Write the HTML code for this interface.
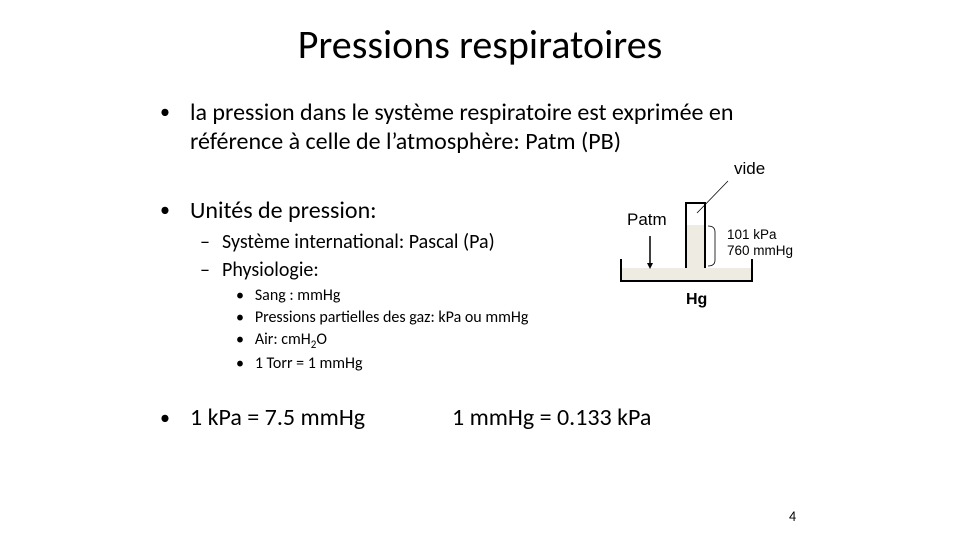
<!DOCTYPE html>
<html><head><meta charset="utf-8"><style>
body{margin:0;width:960px;height:540px;background:#fff;font-family:"Liberation Sans",sans-serif;position:relative;overflow:hidden;color:#000}
.a{position:absolute;white-space:nowrap;font-family:Carlito,Calibri,"Liberation Sans",sans-serif}
</style></head><body>
<div class="a" style="left:0;width:960px;text-align:center;top:21px;font-size:40px;line-height:48px">Pressions respiratoires</div>
<div class="a" style="left:160px;top:98px;font-size:20px;line-height:29px">•</div>
<div class="a" style="left:190px;top:98px;font-size:24px;line-height:29px">la pression dans le système respiratoire est exprimée en<br>référence à celle de l’atmosphère: Patm (PB)</div>
<div class="a" style="left:160px;top:196px;font-size:20px;line-height:29px">•</div>
<div class="a" style="left:190px;top:196px;font-size:24px;line-height:29px">Unités de pression:</div>
<div class="a" style="left:200px;top:230px;font-size:20px;line-height:24px">–</div>
<div class="a" style="left:222px;top:230px;font-size:20px;line-height:24px">Système international: Pascal (Pa)</div>
<div class="a" style="left:200px;top:258px;font-size:20px;line-height:24px">–</div>
<div class="a" style="left:222px;top:258px;font-size:20px;line-height:24px">Physiologie:</div>
<div class="a" style="left:236px;top:287px;font-size:16px;line-height:18px">•&nbsp;&nbsp;&nbsp;Sang : mmHg</div>
<div class="a" style="left:236px;top:309px;font-size:16px;line-height:18px">•&nbsp;&nbsp;&nbsp;Pressions partielles des gaz: kPa ou mmHg</div>
<div class="a" style="left:236px;top:331px;font-size:16px;line-height:18px">•&nbsp;&nbsp;&nbsp;Air: cmH<sub style="font-size:11px">2</sub>O</div>
<div class="a" style="left:236px;top:355px;font-size:16px;line-height:18px">•&nbsp;&nbsp;&nbsp;1 Torr = 1 mmHg</div>
<div class="a" style="left:160px;top:404px;font-size:20px;line-height:28px">•</div>
<div class="a" style="left:190px;top:404px;font-size:24px;line-height:28px">1 kPa = 7.5 mmHg</div>
<div class="a" style="left:452px;top:404px;font-size:24px;line-height:28px">1 mmHg = 0.133 kPa</div>
<div class="a" style="left:789px;top:508px;font-size:14px">4</div>
<svg width="960" height="540" style="position:absolute;left:0;top:0" font-family="Liberation Sans, sans-serif">
<rect x="622" y="268" width="130" height="13" fill="#eeebe3"/>
<rect x="686" y="225" width="19" height="44" fill="#eeebe3"/>
<polyline points="621,259 621,281 752,281 752,259" fill="none" stroke="#000" stroke-width="2"/>
<polyline points="686,268 686,203 705,203 705,268" fill="none" stroke="#000" stroke-width="2"/>
<line x1="697" y1="213" x2="728" y2="181" stroke="#000" stroke-width="0.8"/>
<path d="M708,226 Q715,226 715,232 L715,260 Q715,266 708,266" fill="none" stroke="#000" stroke-width="0.8"/>
<line x1="650" y1="236" x2="650" y2="265" stroke="#000" stroke-width="1.5"/>
<polygon points="647,263 653,263 650,269" fill="#000"/>
<text x="734" y="174" font-size="17">vide</text>
<text x="627" y="225" font-size="17">Patm</text>
<text x="727" y="239" font-size="13.5">101 kPa</text>
<text x="727" y="255" font-size="13.5">760 mmHg</text>
<text x="686" y="304" font-size="16" font-weight="bold">Hg</text>
</svg>
</body></html>
